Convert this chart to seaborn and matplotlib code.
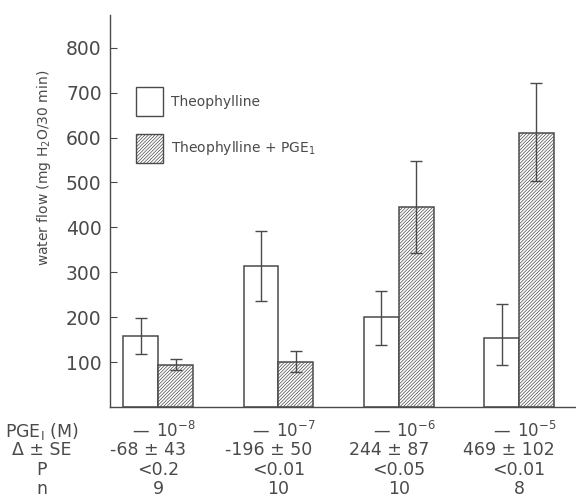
import numpy as np
import pandas as pd
import seaborn as sns
import matplotlib
matplotlib.use("Agg")
import matplotlib.pyplot as plt
import matplotlib.transforms as mtransforms

# ---- data ----
groups = ["1e-8", "1e-7", "1e-6", "1e-5"]
series = ["Theophylline", "Theophylline + PGE$_\\mathregular{1}$"]
theo = [158, 313, 200, 153]
theo_lo = [118, 236, 138, 93]
theo_hi = [198, 393, 258, 229]
pge = [93, 100, 445, 611]
pge_lo = [82, 78, 344, 504]
pge_hi = [107, 124, 547, 722]

yticks = [100, 200, 300, 400, 500, 600, 700, 800]

row_labels = ["PGE$_\\mathregular{I}$ (M)", "Δ ± SE", "P", "n"]
pge_conc = ["$\\mathregular{10^{-8}}$", "$\\mathregular{10^{-7}}$", "$\\mathregular{10^{-6}}$", "$\\mathregular{10^{-5}}$"]
delta_se = ["-68 ± 43", "-196 ± 50", "244 ± 87", "469 ± 102"]
p_vals = ["<0.2", "<0.01", "<0.05", "<0.01"]
n_vals = ["9", "10", "10", "8"]

# ---- style ----
sns.set_style("ticks")
plt.rcParams["font.family"] = ["DejaVu Sans"]
INK = "#4a4a4a"
plt.rcParams["hatch.color"] = "#a0a0a0"
plt.rcParams["hatch.linewidth"] = 0.5

df = pd.DataFrame({
    "group": groups * 2,
    "series": [series[0]] * 4 + [series[1]] * 4,
    "value": theo + pge,
})

W, H = 576, 503
fig = plt.figure(figsize=(W / 100, H / 100), dpi=100)
ax = fig.add_axes([110 / W, 1 - 407 / H, 1 - 110 / W, (407 - 15) / H])

sns.barplot(data=df, x="group", y="value", hue="series", order=groups,
            hue_order=series, palette=["white", "white"], width=0.58,
            gap=0, errorbar=None, edgecolor=INK, linewidth=1.1, ax=ax,
            legend=True)

# hatch second series
for p in ax.containers[1]:
    p.set_hatch("//////////")

# error bars
for cont, vals, lo, hi in [(ax.containers[0], theo, theo_lo, theo_hi),
                           (ax.containers[1], pge, pge_lo, pge_hi)]:
    xs = [p.get_x() + p.get_width() / 2 for p in cont]
    yerr = np.array([[v - l for v, l in zip(vals, lo)],
                     [h - v for v, h in zip(vals, hi)]])
    ax.errorbar(xs, vals, yerr=yerr, fmt="none", ecolor=INK,
                elinewidth=1.0, capsize=4, capthick=1.0)

ax.set_xlim(-0.40, 3.474)
ax.set_ylim(0, 873)
ax.set_yticks(yticks)
ax.set_yticklabels([str(t) for t in yticks], fontsize=13.5, color=INK)
ax.set_xticks([])
ax.set_xlabel("")
ax.set_ylabel("water flow (mg H$_2$O/30 min)", fontsize=10, color=INK)
ax.yaxis.set_label_coords(-0.123, 0.61)
ax.tick_params(axis="y", direction="in", length=5, width=0.8, color=INK, pad=6)
for s in ["top", "right"]:
    ax.spines[s].set_visible(False)
for s in ["left", "bottom"]:
    ax.spines[s].set_color(INK)
    ax.spines[s].set_linewidth(1.0)

# legend
handles, labels = ax.get_legend_handles_labels()
for h in handles:
    h.set_linewidth(1.0)
handles[1].set_hatch("//////////")
leg = ax.legend(handles, labels, loc="upper left",
                bbox_to_anchor=(136 / W, 1 - 87 / H), bbox_transform=fig.transFigure,
                frameon=False, fontsize=10, handlelength=1.95, handleheight=2.84,
                labelspacing=1.28, handletextpad=0.6, borderpad=0, borderaxespad=0,
                labelcolor=INK)

# table under the axis
trans = mtransforms.blended_transform_factory(ax.transData, fig.transFigure)
row_y = [1 - 431 / H, 1 - 450 / H, 1 - 470 / H, 1 - 489 / H]
for lbl, yy in zip(row_labels, row_y):
    fig.text(42 / W, yy, lbl, ha="center", va="center", fontsize=12.5, color=INK)
bar_half = 0.29 / 2
for i in range(len(groups)):
    ax.text(i - bar_half, row_y[0], "—", transform=trans,
            ha="center", va="center", fontsize=12, color=INK)
    ax.text(i + bar_half, row_y[0], pge_conc[i], transform=trans,
            ha="center", va="center", fontsize=12, color=INK)
    ax.text(i - 0.08, row_y[1], delta_se[i], transform=trans,
            ha="center", va="center", fontsize=12.5, color=INK)
    ax.text(i, row_y[2], p_vals[i], transform=trans,
            ha="center", va="center", fontsize=12.5, color=INK)
    ax.text(i, row_y[3], n_vals[i], transform=trans,
            ha="center", va="center", fontsize=12.5, color=INK)

fig.savefig("out.png", dpi=100)
